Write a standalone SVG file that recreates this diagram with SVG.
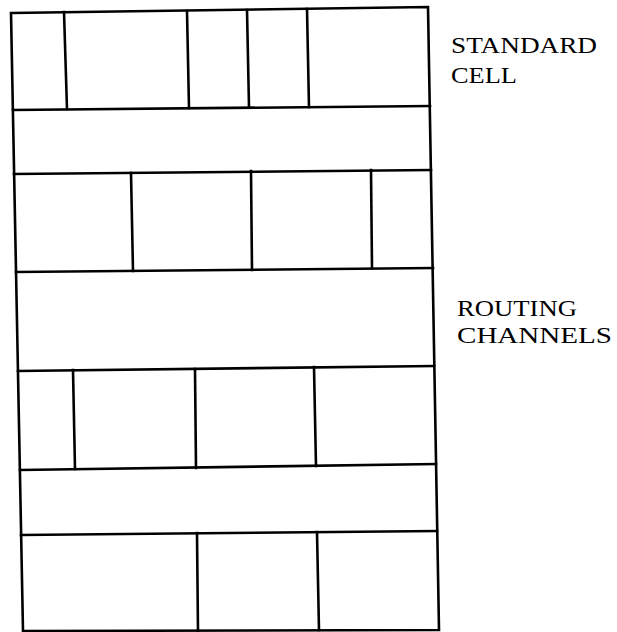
<svg xmlns="http://www.w3.org/2000/svg" width="617" height="632" viewBox="0 0 617 632">
<style>
.ln{stroke:#000;stroke-width:2.6;fill:none;stroke-linecap:square}
.lb{font-family:'Liberation Serif','DejaVu Serif',serif;font-size:23px;fill:#000}
</style>
<rect width="617" height="632" fill="#fff"/>
<g id="frame">
<polygon class="ln" points="11,13 428,7 439,630 23,631"/>
</g>
<g id="rows">
<line class="ln" x1="13" y1="110" x2="430" y2="106"/>
<line class="ln" x1="14" y1="174" x2="431" y2="170"/>
<line class="ln" x1="16" y1="272" x2="433" y2="268"/>
<line class="ln" x1="18" y1="371" x2="434" y2="366"/>
<line class="ln" x1="20" y1="470" x2="436" y2="464"/>
<line class="ln" x1="21" y1="535" x2="437" y2="531"/>
</g>
<g id="cells-row1">
<line class="ln" x1="64" y1="12" x2="67" y2="109"/>
<line class="ln" x1="187" y1="11" x2="189" y2="108"/>
<line class="ln" x1="247" y1="10" x2="249" y2="107"/>
<line class="ln" x1="307" y1="9" x2="309" y2="107"/>
</g>
<g id="cells-row2">
<line class="ln" x1="131" y1="173" x2="133" y2="271"/>
<line class="ln" x1="251" y1="171" x2="252" y2="270"/>
<line class="ln" x1="371" y1="170" x2="372" y2="268"/>
</g>
<g id="cells-row3">
<line class="ln" x1="73" y1="370" x2="75" y2="469"/>
<line class="ln" x1="195" y1="369" x2="196" y2="468"/>
<line class="ln" x1="314" y1="367" x2="316" y2="466"/>
</g>
<g id="cells-row4">
<line class="ln" x1="197" y1="533" x2="198" y2="631"/>
<line class="ln" x1="317" y1="532" x2="319" y2="630"/>
</g>
<g id="labels">
<text class="lb" x="451" y="53" textLength="146" lengthAdjust="spacingAndGlyphs">STANDARD</text>
<text class="lb" x="451" y="83" textLength="66" lengthAdjust="spacingAndGlyphs">CELL</text>
<text class="lb" x="457" y="316" textLength="120" lengthAdjust="spacingAndGlyphs">ROUTING</text>
<text class="lb" x="457" y="343" textLength="155" lengthAdjust="spacingAndGlyphs">CHANNELS</text>
</g>
</svg>
